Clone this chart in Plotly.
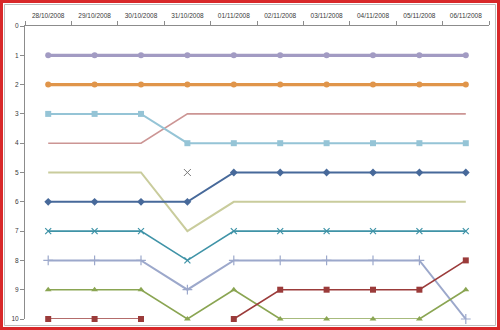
import plotly.graph_objects as go

dates = ["28/10/2008", "29/10/2008", "30/10/2008", "31/10/2008", "01/11/2008",
         "02/11/2008", "03/11/2008", "04/11/2008", "05/11/2008", "06/11/2008"]
y_ticks = [0, 1, 2, 3, 4, 5, 6, 7, 8, 9, 10]

s_purple = [1, 1, 1, 1, 1, 1, 1, 1, 1, 1]
s_orange = [2, 2, 2, 2, 2, 2, 2, 2, 2, 2]
s_lightblue = [3, 3, 3, 4, 4, 4, 4, 4, 4, 4]
s_pink = [4, 4, 4, 3, 3, 3, 3, 3, 3, 3]
s_olive = [5, 5, 5, 7, 6, 6, 6, 6, 6, 6]
s_darkblue = [6, 6, 6, 6, 5, 5, 5, 5, 5, 5]
s_teal = [7, 7, 7, 8, 7, 7, 7, 7, 7, 7]
s_grayblue = [8, 8, 8, 9, 8, 8, 8, 8, 8, 10]
s_green = [9, 9, 9, 10, 9, 10, 10, 10, 10, 9]
s_darkred = [10, 10, 10, None, 10, 9, 9, 9, 9, 8]
s_lone = [None, None, None, 5, None, None, None, None, None, None]

series = [
    (s_pink, "#CC9594", 1.6, "lines", "circle", 0),
    (s_olive, "#C9CC9C", 2, "lines", "circle", 0),
    (s_lightblue, "#95C4D6", 2, "lines+markers", "square", 6),
    (s_grayblue, "#9CA8CB", 2, "lines+markers", "cross-thin", 7),
    (s_teal, "#3F93A7", 1.6, "lines+markers", "x-thin", 6),
    (s_green, "#8AA552", 1.6, "lines+markers", "triangle-up", 6),
    (s_darkred, "#9B3B3A", 1.6, "lines+markers", "square", 6),
    (s_darkblue, "#47699A", 2, "lines+markers", "diamond", 6),
    (s_purple, "#A29BC3", 3.2, "lines+markers", "circle", 6),
    (s_orange, "#E0954A", 3.2, "lines+markers", "circle", 6),
]

fig = go.Figure()
for vals, color, w, mode, sym, size in series:
    lw = 1.2 if sym in ("cross-thin", "x-thin") else 0
    fig.add_trace(go.Scatter(
        x=dates, y=vals, mode=mode, connectgaps=False, cliponaxis=False,
        line=dict(color=color, width=w),
        marker=dict(symbol=sym, size=size, color=color,
                    line=dict(color=color, width=lw)),
        showlegend=False))
fig.add_trace(go.Scatter(
    x=dates, y=s_lone, mode="markers", cliponaxis=False,
    marker=dict(symbol="x-thin", size=7, line=dict(color="#7A7A7A", width=1)),
    showlegend=False))

W, H = 500, 330
L, R, T, B = 25, 11, 26, 11
pw, ph = W - L - R, H - T - B

def px(x):
    return (x - L) / pw

def py(y):
    return 1 - (y - T) / ph

fig.update_layout(
    width=W, height=H,
    margin=dict(l=L, r=R, t=T, b=B),
    paper_bgcolor="white", plot_bgcolor="white",
    font=dict(family="Liberation Sans, Arial, sans-serif", size=6.5, color="#3A3A3A"),
    xaxis=dict(type="category", side="top", range=[-0.5, 9.5],
               showline=True, linecolor="#8C8C8C", linewidth=1,
               ticks="outside", tickson="boundaries", ticklen=4,
               tickcolor="#8C8C8C", showgrid=False, zeroline=False,
               tickfont=dict(size=6.5), ticklabelstandoff=4,
               automargin=False),
    yaxis=dict(range=[10, 0], tickvals=y_ticks,
               showline=True, linecolor="#8C8C8C", linewidth=1,
               ticks="outside", ticklen=4, tickcolor="#8C8C8C",
               showgrid=False, zeroline=False, tickfont=dict(size=6.5),
               automargin=False),
    shapes=[
        dict(type="rect", xref="paper", yref="paper",
             x0=px(1.5), x1=px(W - 1.5), y0=py(1.5), y1=py(H - 1.5),
             line=dict(color="#D8282A", width=3), layer="above"),
        dict(type="rect", xref="paper", yref="paper",
             x0=px(4.5), x1=px(W - 4.5), y0=py(4.5), y1=py(H - 4.5),
             line=dict(color="#BDBDBD", width=1), layer="above"),
    ],
)

fig.write_html("out.html")
